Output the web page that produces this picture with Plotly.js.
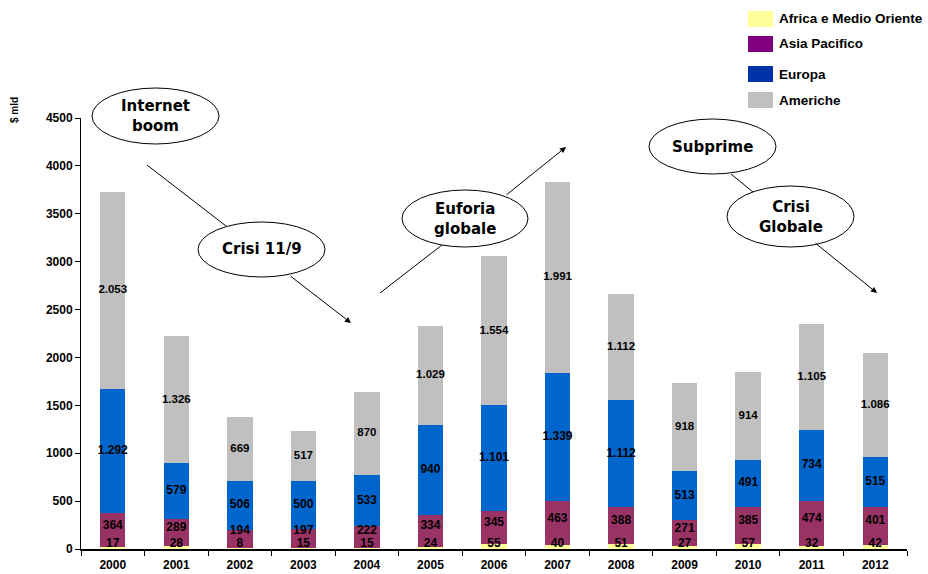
<!DOCTYPE html>
<html>
<head>
<meta charset="utf-8">
<script src="https://cdn.plot.ly/plotly-3.0.1.min.js"></script>
<style>html,body{margin:0;padding:0;background:#fff}#chart{width:928px;height:574px}</style>
</head>
<body>
<div id="chart"></div>
<script>
const years = ['2000','2001','2002','2003','2004','2005','2006','2007','2008','2009','2010','2011','2012'];
const africa   = [17, 28, 8, 15, 15, 24, 55, 40, 51, 27, 57, 32, 42];
const asia     = [364, 289, 194, 197, 222, 334, 345, 463, 388, 271, 385, 474, 401];
const europa   = [1292, 579, 506, 500, 533, 940, 1101, 1339, 1112, 513, 491, 734, 515];
const americhe = [2053, 1326, 669, 517, 870, 1029, 1554, 1991, 1112, 918, 914, 1105, 1086];
const seriesNames = ['Africa e Medio Oriente', 'Asia Pacifico', 'Europa', 'Americhe'];

const FONT = 'Liberation Sans, Arial, sans-serif';
const FONT2 = 'DejaVu Sans, Verdana, sans-serif';
const barColors = ['#FFFF99', '#993366', '#0066CC', '#C0C0C0'];
const legendColors = ['#FFFF99', '#800080', '#0033A8', '#C0C0C0'];

function fmt(n){ return String(n).replace(/\B(?=(\d{3})+(?!\d))/g, '.'); }

const series = [africa, asia, europa, americhe];
const traces = series.map((vals, i) => ({
  type: 'bar', x: years, y: vals, name: seriesNames[i],
  marker: {color: barColors[i], line: {width: 0}},
  showlegend: false, hoverinfo: 'x+y+name'
}));

// label positions derived from the data
const base1 = africa;
const base2 = africa.map((v,i)=>v+asia[i]);
const base3 = base2.map((v,i)=>v+europa[i]);
const labAfrica = africa.map(()=>55);
const labAsia = asia.map((v,i)=>Math.max(base1[i] + v/2 + 45, 190));
const labEuropa = europa.map((v,i)=>base2[i] + v/2);
const labAmer = americhe.map((v,i)=>base3[i] + v/2);

function textTrace(y, vals, size){
  return {type:'scatter', mode:'text', x: years, y: y, text: vals.map(fmt),
    textfont:{family: FONT, size: size, color:'#000', weight:'bold'},
    textposition:'middle center', showlegend:false, hoverinfo:'skip', cliponaxis:false};
}
traces.push(textTrace(labAfrica, africa, 12));
traces.push(textTrace(labAsia, asia, 12));
traces.push(textTrace(labEuropa, europa, 12));
traces.push(textTrace(labAmer, americhe, 11.5));

// pixel -> paper helpers (plot area: x 81..907, y 118..549)
const L = 81, R = 907, T = 118, B = 549;
const xp = px => (px - L) / (R - L);
const yp = py => (B - py) / (B - T);

const shapes = [];
const annotations = [];

function ellipse(x0, y0, x1, y1, text){
  shapes.push({type:'circle', xref:'paper', yref:'paper', x0: xp(x0), x1: xp(x1), y0: yp(y1), y1: yp(y0),
    fillcolor:'#fff', line:{color:'#000', width:1}, layer:'above'});
  annotations.push({xref:'paper', yref:'paper', x: xp((x0+x1)/2), y: yp((y0+y1)/2), text: text,
    showarrow:false, font:{family: FONT2, size:15, color:'#000', weight:'bold'}, xanchor:'center', yanchor:'middle'});
}
function seg(x0, y0, x1, y1){
  shapes.push({type:'line', xref:'paper', yref:'paper', x0: xp(x0), y0: yp(y0), x1: xp(x1), y1: yp(y1),
    line:{color:'#000', width:1}, layer:'above'});
}
function arrow(tx, ty, fx, fy){
  annotations.push({xref:'paper', yref:'paper', x: xp(tx), y: yp(ty), ax: fx - tx, ay: fy - ty, text:'',
    showarrow:true, arrowhead:2, arrowsize:1.2, arrowwidth:1, arrowcolor:'#000', standoff:0});
}

// connecting lines
seg(147, 165, 226, 226);
arrow(351, 323, 289, 275);
seg(380, 293, 442, 245);
arrow(566, 147, 505, 196);
seg(731, 174, 753, 192);
arrow(877, 293, 814, 242);

ellipse(92, 88, 219, 144, 'Internet<br>boom');
ellipse(198, 222, 325, 277, 'Crisi 11/9');
ellipse(402, 190, 528, 247, 'Euforia<br>globale');
ellipse(649, 119, 776, 174, 'Subprime');
ellipse(727, 186, 854, 247, 'Crisi<br>Globale');

// custom legend
const legY = [19, 44, 74, 100];
seriesNames.forEach((nm, i) => {
  shapes.push({type:'rect', xref:'paper', yref:'paper', x0: xp(748), x1: xp(773), y0: yp(legY[i]+8), y1: yp(legY[i]-8),
    fillcolor: legendColors[i], line:{width:0}, layer:'above'});
  annotations.push({xref:'paper', yref:'paper', x: xp(777), y: yp(legY[i]), text: nm, showarrow:false,
    xanchor:'left', yanchor:'middle', font:{family: FONT, size:13.5, color:'#000', weight:'bold'}});
});

// y-axis title
annotations.push({xref:'paper', yref:'paper', x: xp(15), y: yp(110), text:'$ mld', textangle:-90, showarrow:false,
  xanchor:'center', yanchor:'middle', font:{family: FONT, size:10, color:'#000', weight:'bold'}});

const layout = {
  width: 928, height: 574,
  margin: {l: L, r: 928 - R, t: T, b: 574 - B, pad: 0},
  paper_bgcolor:'#fff', plot_bgcolor:'#fff',
  barmode:'stack', bargap: 0.6,
  showlegend:false,
  font:{family: FONT, color:'#000'},
  xaxis:{type:'category', range:[-0.5, 12.5], showline:true, linecolor:'#000', linewidth:2,
    ticks:'outside', tickson:'boundaries', ticklen:5, tickcolor:'#000', showgrid:false, zeroline:false,
    ticklabelstandoff: 4,
    tickfont:{family: FONT, size:12, color:'#000', weight:'bold'}, fixedrange:true},
  yaxis:{range:[0, 4500], dtick:500, tick0:0, showline:true, linecolor:'#000', linewidth:1,
    ticks:'outside', ticklen:5, tickcolor:'#000', showgrid:false, zeroline:false,
    tickfont:{family: FONT, size:12, color:'#000', weight:'bold'}, fixedrange:true},
  shapes: shapes,
  annotations: annotations
};

Plotly.newPlot('chart', traces, layout, {displayModeBar:false, staticPlot:true});
</script>
</body>
</html>
